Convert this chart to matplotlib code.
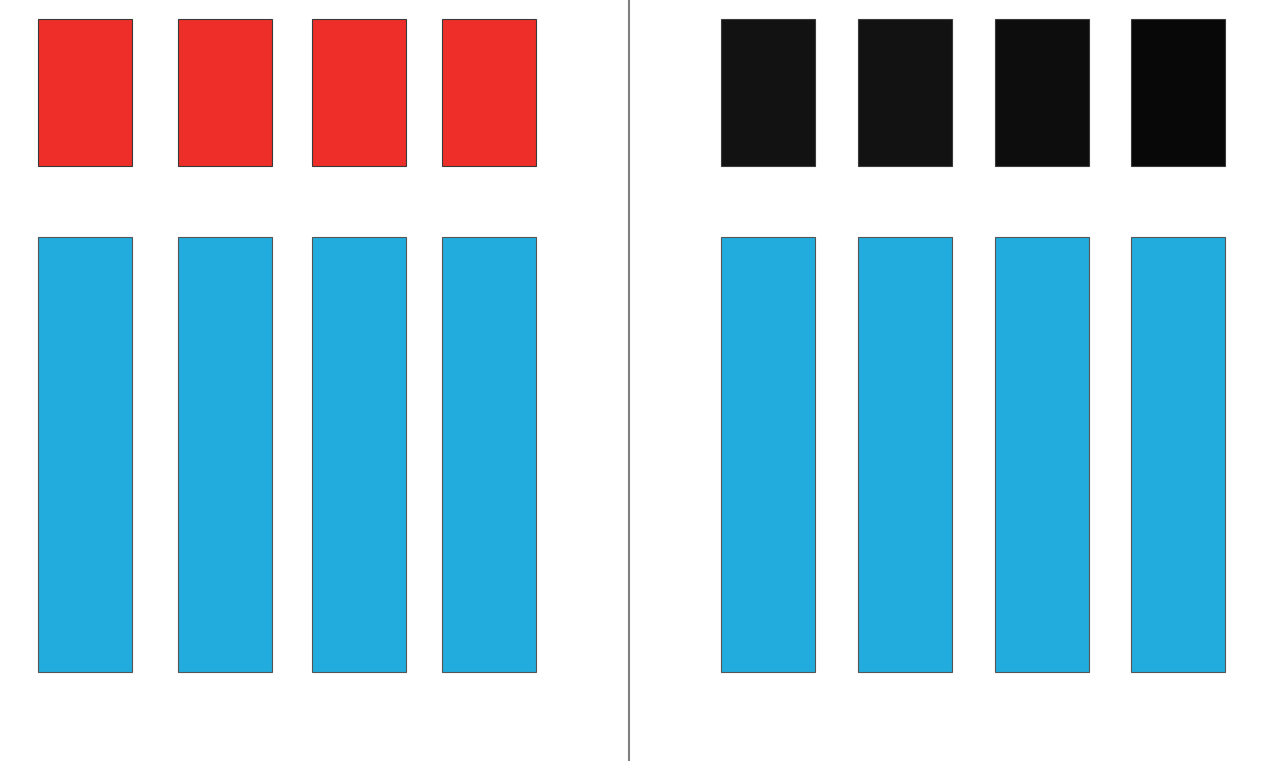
import matplotlib.pyplot as plt

# data: two panels, four columns each, a short top block over a tall bottom block
top_colors_left = ["#ee2e28", "#ee2e28", "#ee2e28", "#ee2e28"]
top_colors_right = ["#121212", "#121212", "#0d0d0d", "#080808"]
bottom_color = "#21acdd"
top_heights = [147, 147, 147, 147]
bottom_heights = [435, 435, 435, 435]

# layout (pixel units of the 1279x761 canvas)
left_x = [38, 178, 312, 442]
right_x = [721, 858, 995, 1131]
bar_w = 93.5
top_y = 19
bottom_y = 237
divider_x = 628.5

fig = plt.figure(figsize=(12.79, 7.61), dpi=100)
ax = fig.add_axes([0, 0, 1, 1])
ax.set_xlim(0, 1279)
ax.set_ylim(761, 0)
ax.axis("off")

for xs, tops in [(left_x, top_colors_left), (right_x, top_colors_right)]:
    ax.bar(xs, top_heights, width=bar_w, bottom=top_y, align="edge",
           color=tops, edgecolor="#3a3a3a", linewidth=0.8)
    ax.bar(xs, bottom_heights, width=bar_w, bottom=bottom_y, align="edge",
           color=bottom_color, edgecolor="#555555", linewidth=0.8)

ax.plot([divider_x, divider_x], [0, 761], color="#808080", linewidth=1.5)

fig.savefig("out.png", dpi=100)
